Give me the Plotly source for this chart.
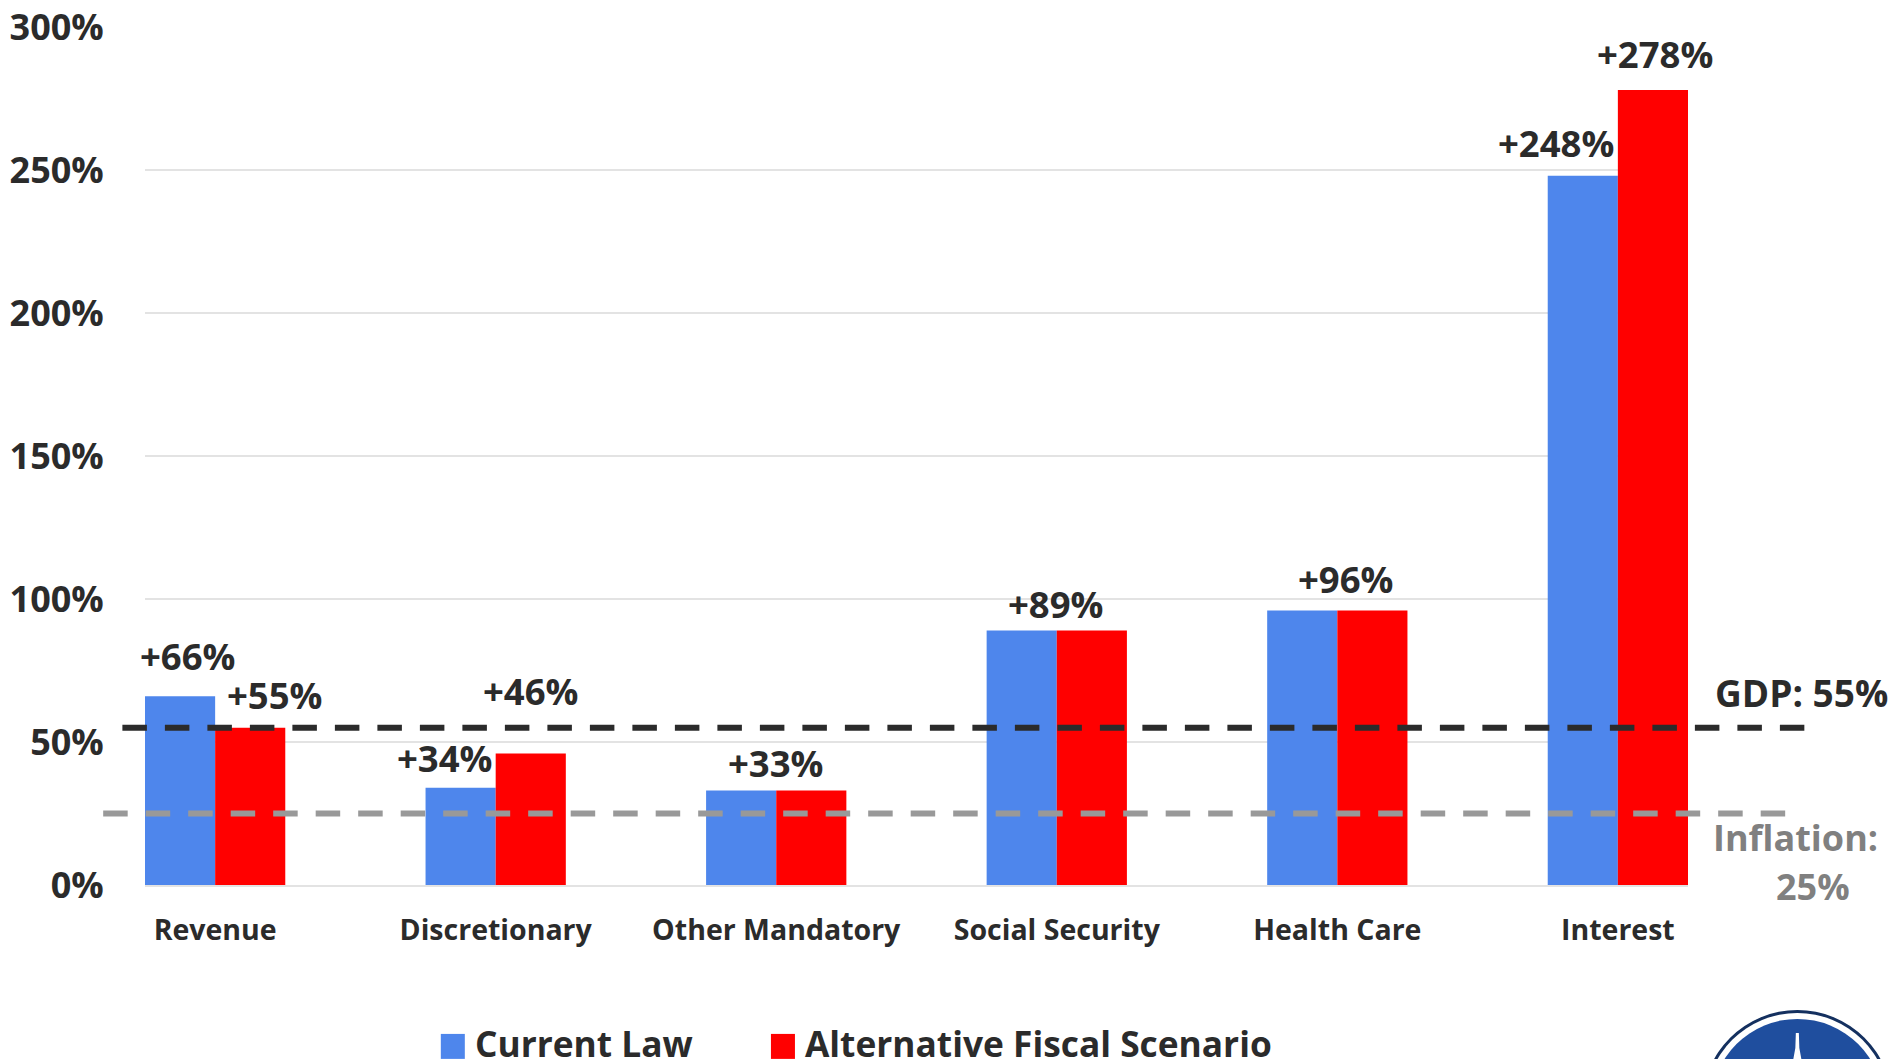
import plotly.graph_objects as go

categories = ["Revenue", "Discretionary", "Other Mandatory", "Social Security", "Health Care", "Interest"]
current_law = [66, 34, 33, 89, 96, 248]
alternative = [55, 46, 33, 89, 96, 278]
gdp_growth = 55
inflation_growth = 25
y_ticks = [0, 50, 100, 150, 200, 250, 300]

BLUE = "#4E86EC"
RED = "#FF0000"
DARK = "#2B2B2B"
GRID = "#E3E3E3"
FONT = "Open Sans"
WEIGHT = 700

# Canvas geometry of the plotting area
W, H = 1891, 1059
L, R, T, B = 145.3, 1687.7, 26.5, 885.0


def px(x):
    return (x - L) / (R - L)


def py(y):
    return (B - y) / (B - T)


fig = go.Figure()
fig.add_bar(x=list(range(6)), y=current_law, name="Current Law",
            marker=dict(color=BLUE, line_width=0), showlegend=False)
fig.add_bar(x=list(range(6)), y=alternative, name="Alternative Fiscal Scenario",
            marker=dict(color=RED, line_width=0), showlegend=False)

shapes = []
annotations = []

# Reference lines run past both ends of the plotting area
for value, color, x0, x1 in [(gdp_growth, DARK, 122.7, 1804), (inflation_growth, "#999999", 103.5, 1788)]:
    shapes.append(dict(type="line", xref="paper", yref="y", x0=px(x0), x1=px(x1), y0=value, y1=value,
                       layer="above", line=dict(color=color, width=6, dash="24.5px,18px")))


def text(x, y, s, size=36, color=DARK, xanchor="center"):
    annotations.append(dict(xref="paper", yref="paper", x=px(x), y=py(y), text=s, showarrow=False,
                            xanchor=xanchor, yanchor="middle",
                            font=dict(family=FONT, size=size, color=color, weight=WEIGHT)))


# Value labels: (series values, category index, bar side, x shift, y shift)
label_offsets = [
    (current_law, 0, -1, 7.5, 40), (alternative, 0, 1, 24.5, 33),
    (current_law, 1, -1, -16, 30), (alternative, 1, 1, 0, 62),
    (current_law, 2, -1, 34.5, 28), (current_law, 3, -1, 34.5, 26),
    (current_law, 4, -1, 44, 31),
    (current_law, 5, -1, -26.5, 33), (alternative, 5, 1, 2.5, 36),
]
for series, i, side, dx, dy in label_offsets:
    annotations.append(dict(x=i + side * 0.125, y=series[i], xref="x", yref="y", text=f"+{series[i]}%",
                            showarrow=False, xanchor="center", yanchor="middle", xshift=dx, yshift=dy,
                            font=dict(family=FONT, size=36.5, color=DARK, weight=WEIGHT)))

text(1801, 692, f"GDP: {gdp_growth}%", size=37)
text(1795, 837, "Inflation:", color="#808080")
text(1813, 887, f"{inflation_growth}%", color="#808080")

# Legend row along the bottom edge
for x0, color, label in [(441, BLUE, "Current Law"), (771, RED, "Alternative Fiscal Scenario")]:
    shapes.append(dict(type="rect", xref="paper", yref="paper", x0=px(x0), x1=px(x0 + 24),
                       y0=py(1034), y1=py(1059), fillcolor=color, line_width=0))
    text(x0 + 32, 1043, label, size=35.3, xanchor="left")

# Seal in the lower right corner, cut off by the page edge
cx, cy, r = 1797, 1105, 95
for radius, color in [(r, "#14305F"), (r - 3, "#FFFFFF"), (r - 9, "#1F4E9E")]:
    shapes.append(dict(type="circle", xref="paper", yref="paper", x0=px(cx - radius), x1=px(cx + radius),
                       y0=py(cy - radius), y1=py(cy + radius), fillcolor=color, line_width=0))
spire = [(1795.5, 1033), (1798.5, 1033), (1799, 1048), (1801, 1059), (1793, 1059), (1795, 1048)]
shapes.append(dict(type="path", xref="paper", yref="paper", fillcolor="#FFFFFF", line_width=0,
                   path="M" + " L".join(f"{px(a):.5f},{py(b):.5f}" for a, b in spire) + " Z"))

fig.update_layout(
    width=W, height=H, autosize=False,
    margin=dict(l=L, r=W - R, t=T, b=H - B, pad=0),
    paper_bgcolor="white", plot_bgcolor="white",
    barmode="group", bargap=0.5, bargroupgap=0,
    shapes=shapes, annotations=annotations,
    xaxis=dict(range=[-0.25, 5.25], tickmode="array", tickvals=list(range(6)), ticktext=categories,
               automargin=False, ticks="outside", ticklen=19, tickcolor="rgba(0,0,0,0)", showgrid=False,
               showline=True, linecolor=GRID, linewidth=2, zeroline=False,
               tickfont=dict(family=FONT, size=28.5, color=DARK, weight=WEIGHT)),
    yaxis=dict(range=[0, 300], tickmode="array", tickvals=y_ticks, ticktext=[f"{v}%" for v in y_ticks],
               automargin=False, ticks="outside", ticklen=33, tickcolor="rgba(0,0,0,0)", showgrid=True,
               gridcolor=GRID, gridwidth=2, zeroline=False, showline=False,
               tickfont=dict(family=FONT, size=36, color=DARK, weight=WEIGHT)),
)

fig.write_html("out.html", config=dict(displayModeBar=False))
